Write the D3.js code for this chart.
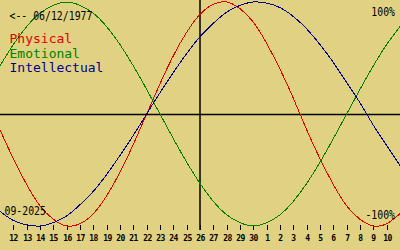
<!DOCTYPE html>
<html>
<head>
<meta charset="utf-8">
<script src="https://cdn.jsdelivr.net/npm/d3@7"></script>
<style>
  body { margin: 0; background: #e0d282; }
  svg { display: block; }
  text { font-family: "DejaVu Sans Mono", monospace; }
</style>
</head>
<body>
<svg width="400" height="250"></svg>
<script>
// days shown, 11 Sep .. 11 Oct 2025, centre = 26
var days = [11, 12, 13, 14, 15, 16, 17, 18, 19, 20, 21, 22, 23, 24, 25, 26, 27, 28, 29, 30,
            1, 2, 3, 4, 5, 6, 7, 8, 9, 10, 11];

var physical = [-0.14, -0.40, -0.63, -0.82, -0.94, -1.00, -0.98, -0.89, -0.73, -0.52, -0.27,
                0.00, 0.27, 0.52, 0.73, 0.89, 0.98, 1.00, 0.94, 0.82, 0.63, 0.40, 0.14,
                -0.14, -0.40, -0.63, -0.82, -0.94, -1.00, -0.98, -0.89];

var emotional = [0.43, 0.62, 0.78, 0.90, 0.97, 1.00, 0.97, 0.90, 0.78, 0.62, 0.43, 0.22,
                 0.00, -0.22, -0.43, -0.62, -0.78, -0.90, -0.97, -1.00, -0.97, -0.90, -0.78,
                 -0.62, -0.43, -0.22, 0.00, 0.22, 0.43, 0.62, 0.78];

var intellectual = [-0.87, -0.95, -0.99, -1.00, -0.97, -0.91, -0.81, -0.69, -0.54, -0.37, -0.19,
                    0.00, 0.19, 0.37, 0.54, 0.69, 0.81, 0.91, 0.97, 1.00, 0.99, 0.95, 0.87,
                    0.76, 0.62, 0.46, 0.28, 0.10, -0.10, -0.28, -0.46];

var series = [
  {name: "Physical", values: physical, color: "#e00000"},
  {name: "Emotional", values: emotional, color: "#008000"},
  {name: "Intellectual", values: intellectual, color: "#000090"}
];

var birth = "<-- 06/12/1977",
    month = "09-2025",
    topLabel = "100%",
    bottomLabel = "-100%";

var svg = d3.select("svg"),
    width = 400,
    height = 250;

var x = d3.scaleLinear()
    .domain([0, days.length - 1])
    .range([0, width]);

var y = d3.scaleLinear()
    .domain([-1, 1])
    .range([226, 2]);

var mid = Math.floor(days.length / 2);

// zero line and today line
svg.append("line")
    .attr("x1", 0).attr("x2", width)
    .attr("y1", Math.round(y(0)) + 0.5).attr("y2", Math.round(y(0)) + 0.5)
    .attr("stroke", "#000")
    .attr("stroke-width", 1.5);

svg.append("line")
    .attr("x1", x(mid)).attr("x2", x(mid))
    .attr("y1", 0).attr("y2", 230)
    .attr("stroke", "#000")
    .attr("stroke-width", 1.5);

// day ticks
var tickIdx = d3.range(1, days.length - 1);

var ticks = svg.append("g")
    .selectAll("g")
    .data(tickIdx)
    .enter().append("g")
    .attr("transform", function(d) { return "translate(" + (Math.round(x(d)) + 0.5) + ",0)"; });

ticks.append("line")
    .attr("y1", 225).attr("y2", 230)
    .attr("stroke", "#000")
    .attr("stroke-width", 1);

ticks.append("text")
    .attr("y", 240.5)
    .attr("text-anchor", "middle")
    .attr("font-size", 8)
    .attr("font-weight", "bold")
    .attr("letter-spacing", -0.5)
    .attr("fill", "#000")
    .text(function(d) { return days[d]; });

// curves
var line = d3.line()
    .x(function(d, i) { return x(i); })
    .y(function(d) { return y(d); })
    .curve(d3.curveNatural);

svg.append("g")
    .selectAll("path")
    .data(series)
    .enter().append("path")
    .attr("d", function(d) { return line(d.values); })
    .attr("fill", "none")
    .attr("stroke", function(d) { return d.color; })
    .attr("stroke-width", 1)
    .attr("shape-rendering", "crispEdges");

// labels (narrow, tall glyphs like the original)
function small(txt, px, py, anchor) {
  svg.append("text")
      .attr("transform", "translate(" + px + "," + py + ") scale(0.82,1)")
      .attr("text-anchor", anchor)
      .attr("font-size", 12)
      .attr("fill", "#000")
      .text(txt);
}

small(birth, 9.5, 20, "start");
small(topLabel, 395, 16, "end");
small(bottomLabel, 395, 219, "end");
small(month, 4.5, 215, "start");

svg.append("g")
    .selectAll("text")
    .data(series)
    .enter().append("text")
    .attr("x", 9.5)
    .attr("y", function(d, i) { return 43 + i * 14.5; })
    .attr("font-size", 13)
    .attr("fill", function(d) { return d.color; })
    .text(function(d) { return d.name; });
</script>
</body>
</html>
